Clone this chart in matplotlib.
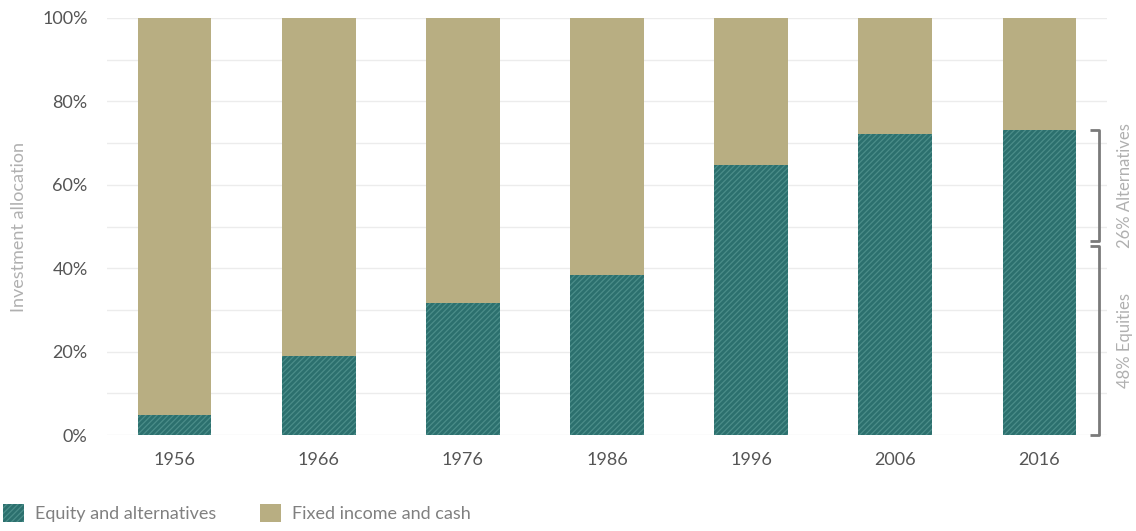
import matplotlib.pyplot as plt
import matplotlib.transforms as mtransforms
from matplotlib.patches import Patch

plt.rcParams['font.family'] = ['Lato', 'DejaVu Sans']
plt.rcParams['hatch.linewidth'] = 0.9

years = ['1956', '1966', '1976', '1986', '1996', '2006', '2016']
equity = [4.8, 19.0, 31.7, 38.4, 64.8, 72.2, 73.1]
fixed = [100 - e for e in equity]

equities_share = 46.0
bracket_labels = ['48% Equities', '26% Alternatives']

TEAL = '#2c706e'
HATCH = '#4b8d89'
TAN = '#b8ae82'
GRID = '#ececec'
TEXT = '#555555'
LIGHT = '#b0b0b0'

fig = plt.figure(figsize=(11.36, 5.31), dpi=100)
ax = fig.add_axes([107 / 1136, 96 / 531, 1000 / 1136, 417 / 531])

x = range(len(years))
ax.bar(x, equity, width=0.51, color=TEAL, hatch='//////', edgecolor=HATCH, linewidth=0, zorder=3)
ax.bar(x, fixed, bottom=equity, width=0.51, color=TAN, linewidth=0, zorder=3)

ax.set_xlim(-0.47, 6.47)
ax.set_ylim(0, 100)
ax.set_xticks(list(x))
ax.set_xticklabels(years)
ax.set_yticks(range(0, 101, 20))
ax.set_yticklabels([f'{v}%' for v in range(0, 101, 20)])
ax.set_yticks(range(10, 100, 20), minor=True)
ax.grid(axis='y', which='both', color=GRID, linewidth=1, zorder=0)
ax.tick_params(axis='both', which='both', length=0, labelsize=13, colors=TEXT)
ax.tick_params(axis='x', pad=12)
ax.tick_params(axis='y', pad=14)
for s in ax.spines.values():
    s.set_visible(False)
ax.set_ylabel('Investment allocation', color=LIGHT, fontsize=13, labelpad=11)

# brackets on the right
tr = mtransforms.blended_transform_factory(ax.transAxes, ax.transData)
bx, tick = 0.992, 0.009
segs = [(0, equities_share - 0.6), (equities_share + 0.6, equity[-1])]
for (lo, hi), lab in zip(segs, bracket_labels):
    ax.plot([bx - tick, bx, bx, bx - tick], [lo, lo, hi, hi], color='#7a7a7a',
            linewidth=2, transform=tr, clip_on=False, zorder=5, solid_capstyle='butt')
    ax.text(1.018, (lo + hi) / 2, lab, rotation=90, va='center', ha='center',
            color=LIGHT, fontsize=12, transform=tr)

handles = [Patch(facecolor=TEAL, hatch='//////', edgecolor=HATCH, linewidth=0, label='Equity and alternatives'),
           Patch(facecolor=TAN, linewidth=0, label='Fixed income and cash')]
fig.legend(handles=handles, loc='lower left', bbox_to_anchor=(-0.012, -0.014), ncol=2, frameon=False,
           fontsize=13, labelcolor='#808080', handlelength=1.2, handleheight=1.2,
           handletextpad=0.6, columnspacing=2.4)

fig.savefig('out.png', dpi=100)
